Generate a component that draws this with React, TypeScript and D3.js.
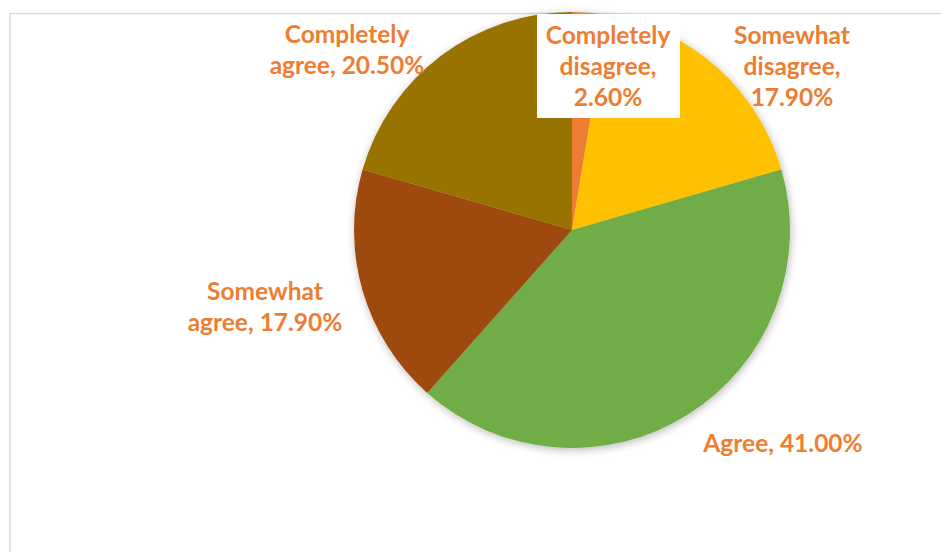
import React, { useEffect, useRef } from "react";
import * as d3 from "d3";

// slices, clockwise from 12 o'clock
const categories = [
  "Completely disagree",
  "Somewhat disagree",
  "Agree",
  "Somewhat agree",
  "Completely agree",
];
const shares = [2.6, 17.9, 41.0, 17.9, 20.5];
const sliceColors = ["#ED7D31", "#FFC000", "#70AD47", "#9E480E", "#997300"];
const labelLines = [
  ["Completely", "disagree,", "2.60%"],
  ["Somewhat", "disagree,", "17.90%"],
  ["Agree, 41.00%"],
  ["Somewhat", "agree, 17.90%"],
  ["Completely", "agree, 20.50%"],
];

// label anchor (center x, first baseline y) per slice
const labelPos: [number, number][] = [
  [608, 44],
  [792, 44],
  [783, 452],
  [265, 300],
  [347, 43],
];

function App() {
  const svgRef = useRef<SVGSVGElement>(null);

  useEffect(() => {
    const width = 941;
    const height = 552;
    const cx = 572;
    const cy = 230;
    const radius = 218;
    const lineH = 31;

    const svg = d3.select(svgRef.current)
      .attr("width", width)
      .attr("height", height);

    svg.selectAll("*").remove();

    const defs = svg.append("defs");
    const shadow = defs.append("filter")
      .attr("id", "pieShadow")
      .attr("x", "-10%").attr("y", "-10%")
      .attr("width", "120%").attr("height", "120%");
    shadow.append("feDropShadow")
      .attr("dx", 1).attr("dy", 2)
      .attr("stdDeviation", 4)
      .attr("flood-color", "#000")
      .attr("flood-opacity", 0.28);

    svg.append("rect")
      .attr("width", width).attr("height", height)
      .attr("fill", "#fff");

    // chart area border
    svg.append("rect")
      .attr("x", 10).attr("y", 13.5)
      .attr("width", 1000).attr("height", 700)
      .attr("fill", "none")
      .attr("stroke", "#d9d9d9")
      .attr("stroke-width", 1.5);

    const data = categories.map((c, i) => ({ name: c, value: shares[i], i }));

    const pie = d3.pie<any>()
      .value(d => d.value)
      .sort(null)
      .startAngle(0)
      .endAngle(2 * Math.PI);

    const arc = d3.arc<any>()
      .innerRadius(0)
      .outerRadius(radius);

    const g = svg.append("g")
      .attr("transform", `translate(${cx},${cy})`);

    g.append("g")
      .attr("filter", "url(#pieShadow)")
      .selectAll("path")
      .data(pie(data))
      .enter()
      .append("path")
      .attr("d", arc)
      .attr("fill", d => sliceColors[d.data.i]);

    // labels
    const labels = svg.append("g")
      .attr("font-family", "Lato, 'Open Sans', sans-serif")
      .attr("font-weight", 700)
      .attr("font-size", 24.5)
      .attr("fill", "#ED7D31")
      .attr("text-anchor", "middle");

    data.forEach((d, i) => {
      const [lx, ly] = labelPos[i];
      const lines = labelLines[i];
      if (i === 0) {
        // white box behind the small slice's label
        labels.append("rect")
          .attr("x", 537).attr("y", 14)
          .attr("width", 143).attr("height", 104)
          .attr("fill", "#fff");
      }
      const t = labels.append("text");
      lines.forEach((ln, k) => {
        t.append("tspan")
          .attr("x", lx)
          .attr("y", ly + k * lineH)
          .text(ln);
      });
    });
  }, []);

  return (
    <svg
      ref={svgRef}
      style={{ position: "absolute", left: 0, top: 0, display: "block" }}
    ></svg>
  );
}

export default App;
